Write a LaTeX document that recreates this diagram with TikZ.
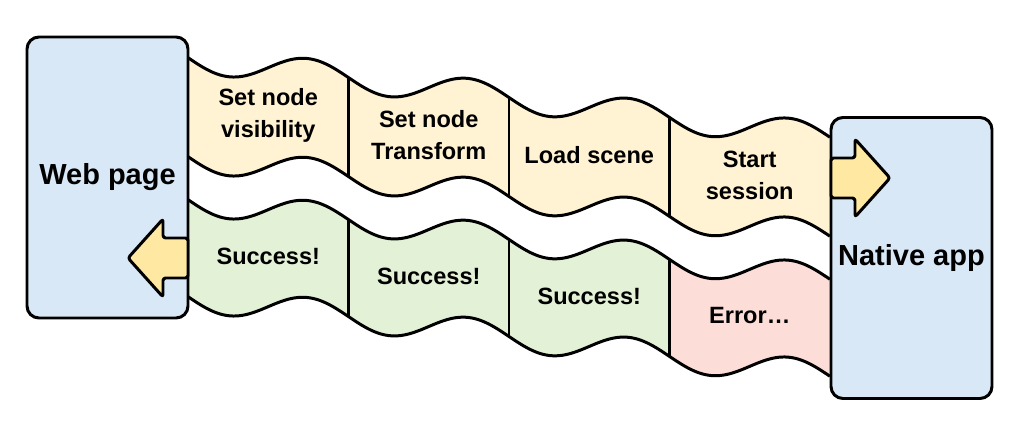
\documentclass[tikz,border=0pt]{standalone}
\usepackage{fontspec}
\setmainfont{Liberation Sans}
\definecolor{endBlue}{HTML}{D8E8F7}
\definecolor{askFill}{HTML}{FFF3D4}
\definecolor{okFill}{HTML}{E3F2D7}
\definecolor{errFill}{HTML}{FDDDD8}
\definecolor{arrowFill}{HTML}{FFE8A1}
\begin{document}
\begin{tikzpicture}[
      line join=round,
      declare function={wav(\x)=1.154+0.124*(\x-3.76)+0.28*sin(360*(\x-3.76)/3.21);},
      endBox/.style={rectangle, rounded corners=0.24cm, draw=black, fill=endBlue, line width=1.7pt, minimum width=3.22cm, minimum height=5.62cm, font=\fontsize{16.5}{19}\selectfont\bfseries},
      cellText/.style={align=center, font=\fontsize{13.4}{18.2}\selectfont\bfseries},
      waveLine/.style={draw=black, line width=1.7pt},
      blockArrow/.style={draw=black, fill=arrowFill, line width=1.7pt, rounded corners=1.5pt}
    ]
      \useasboundingbox (0,0) rectangle (20.48,-8.64);
      \foreach \i/\col in {0/okFill,1/okFill,2/okFill,3/errFill} {
        \pgfmathsetmacro{\a}{3.76+3.21*\i}
        \pgfmathsetmacro{\b}{\a+3.21}
        \fill[askFill] plot[domain=\a:\b, samples=40, smooth] (\x,{-wav(\x)}) -- plot[domain=\b:\a, samples=40, smooth] (\x,{-wav(\x)-1.98}) -- cycle;
        \fill[\col] plot[domain=\a:\b, samples=40, smooth] (\x,{-wav(\x)-2.84}) -- plot[domain=\b:\a, samples=40, smooth] (\x,{-wav(\x)-4.78}) -- cycle;
      }
      \foreach \off in {0,1.98,2.84,4.78}
        \draw[waveLine] plot[domain=3.76:16.60, samples=200, smooth] (\x,{-wav(\x)-\off});
      \foreach \i in {1,2,3} {
        \pgfmathsetmacro{\s}{3.76+3.21*\i}
        \draw[waveLine] (\s,{-wav(\s)}) -- (\s,{-wav(\s)-1.98});
        \draw[waveLine] (\s,{-wav(\s)-2.84}) -- (\s,{-wav(\s)-4.78});
      }
      \node[endBox] (web) at (2.15,-3.55) {Web page};
      \node[endBox] (native) at (18.23,-5.16) {Native app};
      \draw[blockArrow] (3.76,-4.76) -- (3.26,-4.76) -- (3.26,-4.38) -- (2.56,-5.16) -- (3.26,-5.94) -- (3.26,-5.56) -- (3.76,-5.56) -- cycle;
      \draw[blockArrow] (16.62,-3.16) -- (17.10,-3.16) -- (17.10,-2.78) -- (17.80,-3.56) -- (17.10,-4.34) -- (17.10,-3.96) -- (16.62,-3.96) -- cycle;
      \foreach \lbl [count=\i from 0] in {{Set node\\visibility},{Set node\\Transform},{Load scene},{Start\\session}}
        \node[cellText] (ask\i) at ({5.365+3.21*\i},{-2.30-0.4*\i}) {\lbl};
      \foreach \lbl [count=\i from 0] in {Success!,Success!,Success!,Error…}
        \node[cellText] (reply\i) at ({5.365+3.21*\i},{-5.12-0.4*\i}) {\lbl};
    \end{tikzpicture}
\end{document}
